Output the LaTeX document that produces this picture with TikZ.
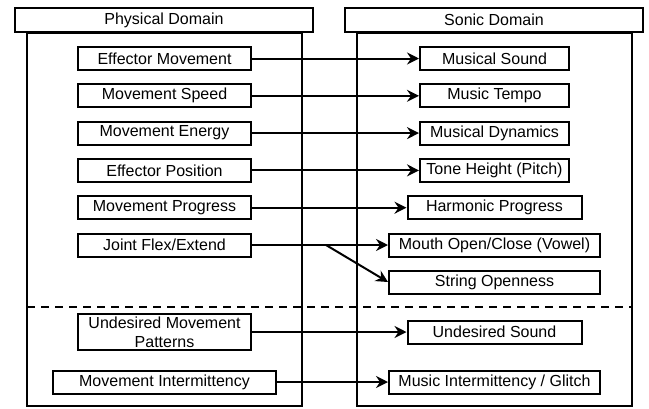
\documentclass[tikz,border=0pt]{standalone}
\usepackage{fontspec}
\setmainfont{Liberation Sans}
\usetikzlibrary{arrows.meta,positioning}

\begin{document}
\begin{tikzpicture}[
    x=1pt, y=-1pt,
    node distance=12.3pt,
    every node/.style={font=\fontsize{16}{19}\selectfont},
    headbox/.style={draw, line width=1.6pt, minimum width=298pt, minimum height=24pt, inner sep=1pt, fill=white},
    itembox/.style={draw, line width=2pt, minimum height=23pt, inner sep=1pt, align=center, fill=white},
    arrstyle/.style={-{Stealth[length=12pt, width=12pt, inset=4pt]}, line width=2pt},
    framestyle/.style={line width=2pt}
]
\useasboundingbox (0,0) rectangle (649,408);

% Domain frames and separator
\draw[framestyle] (27,33) rectangle (302,406);
\draw[framestyle] (357,33) rectangle (632,406);
\draw[framestyle, dash pattern=on 8pt off 6pt] (27,307) -- (632,307);

% Headers
\node[headbox] (phys) at (164,20) {Physical Domain};
\node[headbox] (sonic) at (494,20) {Sonic Domain};
\coordinate (sonx) at (494.5,0);

% Physical Domain
\node[itembox, minimum width=173pt] (effmov) at (164.5,58.5) {Effector Movement};
\node[itembox, minimum width=173pt, below=of effmov] (movspd) {Movement Speed};
\node[itembox, minimum width=173pt, below=of movspd] (movnrg) {Movement Energy};
\node[itembox, minimum width=173pt, below=of movnrg] (effpos) {Effector Position};
\node[itembox, minimum width=173pt, below=of effpos] (movprog) {Movement Progress};
\node[itembox, minimum width=173pt, below=of movprog] (joint) {Joint Flex/Extend};
\node[itembox, minimum width=173pt, minimum height=36pt] (undmov) at (164.5,332) {Undesired Movement\\Patterns};
\node[itembox, minimum width=223pt] (movint) at (164.5,382) {Movement Intermittency};

% Sonic Domain
\node[itembox, minimum width=149pt] (mussnd) at (effmov -| sonx) {Musical Sound};
\node[itembox, minimum width=149pt] (tempo) at (movspd -| sonx) {Music Tempo};
\node[itembox, minimum width=149pt] (dyn) at (movnrg -| sonx) {Musical Dynamics};
\node[itembox, minimum width=149pt] (pitch) at (effpos -| sonx) {Tone Height (Pitch)};
\node[itembox, minimum width=174pt] (harm) at (movprog -| sonx) {Harmonic Progress};
\node[itembox, minimum width=211pt] (mouth) at (joint -| sonx) {Mouth Open/Close (Vowel)};
\node[itembox, minimum width=211pt, below=12pt of mouth] (string) {String Openness};
\node[itembox, minimum width=174pt] (undsnd) at (undmov -| sonx) {Undesired Sound};
\node[itembox, minimum width=211pt] (glitch) at (movint -| sonx) {Music Intermittency / Glitch};

% Mappings
\draw[arrstyle] (effmov.east) -- (mussnd.west);
\draw[arrstyle] (movspd.east) -- (tempo.west);
\draw[arrstyle] (movnrg.east) -- (dyn.west);
\draw[arrstyle] (effpos.east) -- (pitch.west);
\draw[arrstyle] (movprog.east) -- (harm.west);
\coordinate (split) at ([xshift=74pt]joint.east);
\draw[arrstyle] (joint.east) -- (mouth.west);
\draw[arrstyle] (split) -- (string.west);
\draw[arrstyle] (undmov.east) -- (undsnd.west);
\draw[arrstyle] (movint.east) -- (glitch.west);
\end{tikzpicture}
\end{document}
